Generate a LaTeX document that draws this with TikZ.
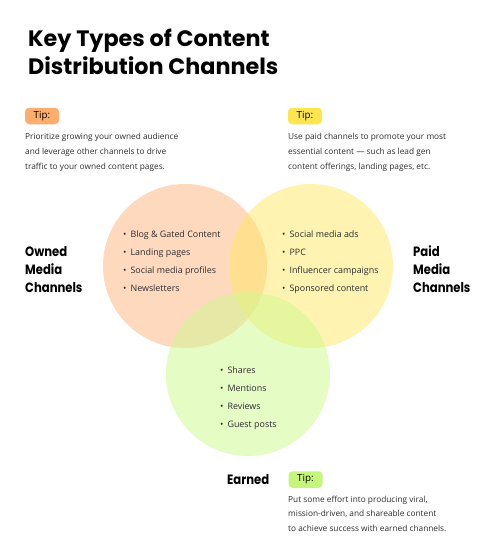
\documentclass[tikz,border=0pt]{standalone}
\usepackage{fontspec}
\setmainfont{Open Sans}
\newfontfamily\headfont{Poppins}
\newfontfamily\chanfont{Poppins}[FakeStretch=0.86]
\definecolor{txt}{HTML}{2E2E2E}
\definecolor{ownfill}{HTML}{FFB47E}
\definecolor{paidfill}{HTML}{FFE865}
\definecolor{earnfill}{HTML}{CCF98C}
\definecolor{owntag}{HTML}{FDAE6E}
\definecolor{paidtag}{HTML}{FDE54F}
\definecolor{earntag}{HTML}{C5F57A}
\tikzset{
  title/.style={anchor=base west, inner sep=0pt, font=\headfont\bfseries\fontsize{22.3}{22.3}\selectfont, text=black},
  chan/.style={anchor=base west, inner sep=0pt, font=\chanfont\bfseries\fontsize{13.5}{13.5}\selectfont, text=black},
  body/.style={anchor=base west, inner sep=0pt, font=\fontsize{8.3}{8.3}\selectfont, text=txt},
  item/.style={anchor=base west, inner sep=0pt, font=\fontsize{8.9}{8.9}\selectfont, text=txt},
  tag/.style={rounded corners=4pt, inner sep=0pt, minimum width=34pt, minimum height=16.5pt, font=\fontsize{9.8}{9.8}\selectfont, text=black},
  venn/.style={fill opacity=0.5, draw=none}
}
\newcommand{\bul}{\textbullet\hspace{4pt}}
\begin{document}
\begin{tikzpicture}[x=1pt,y=-1pt]
\useasboundingbox (0,0) rectangle (497,557);
% title
\node[title] (t1) at (28,46) {Key Types of Content};
\node[title] (t2) at (28,74) {Distribution Channels};
% circles
\fill[venn, ownfill] (185,266) circle (82);
\fill[venn, paidfill] (311,266) circle (82);
\fill[venn, earnfill] (248,374) circle (82);
% tips
\node[tag, fill=owntag] (tipo) at (42,116) {Tip:};
\node[body] (to1) at (25,139) {Prioritize growing your owned audience};
\node[body] (to2) at (25,154) {and leverage other channels to drive};
\node[body] (to3) at (25,169) {traffic to your owned content pages.};
\node[tag, fill=paidtag] (tipp) at (305,116) {Tip:};
\node[body] (tp1) at (288,139) {Use paid channels to promote your most};
\node[body] (tp2) at (288,154) {essential content — such as lead gen};
\node[body] (tp3) at (288,169) {content offerings, landing pages, etc.};
\node[tag, fill=earntag] (tipe) at (305.5,479.5) {Tip:};
\node[body] (te1) at (288,502) {Put some effort into producing viral,};
\node[body] (te2) at (288,516.5) {mission-driven, and shareable content};
\node[body] (te3) at (288,531) {to achieve success with earned channels.};
% channel labels
\node[chan] (o1) at (25,256) {Owned};
\node[chan] (o2) at (25,274) {Media};
\node[chan] (o3) at (25,292) {Channels};
\node[chan] (p1) at (413,256) {Paid};
\node[chan] (p2) at (413,274) {Media};
\node[chan] (p3) at (413,292) {Channels};
\node[chan] (e1) at (227,484) {Earned};
% items
\node[item] (oi1) at (123,237) {\bul Blog \& Gated Content};
\node[item] (oi2) at (123,255) {\bul Landing pages};
\node[item] (oi3) at (123,273) {\bul Social media profiles};
\node[item] (oi4) at (123,291) {\bul Newsletters};
\node[item] (pi1) at (282,237) {\bul Social media ads};
\node[item] (pi2) at (282,255) {\bul PPC};
\node[item] (pi3) at (282,273) {\bul Influencer campaigns};
\node[item] (pi4) at (282,291) {\bul Sponsored content};
\node[item] (ei1) at (220,373) {\bul Shares};
\node[item] (ei2) at (220,391) {\bul Mentions};
\node[item] (ei3) at (220,409) {\bul Reviews};
\node[item] (ei4) at (220,427) {\bul Guest posts};
\end{tikzpicture}
\end{document}
